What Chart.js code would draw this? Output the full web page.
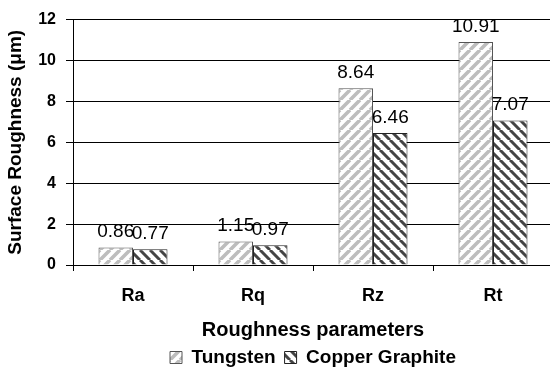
<!DOCTYPE html>
<html><head><meta charset="utf-8">
<script src="https://cdn.jsdelivr.net/npm/chart.js@4/dist/chart.umd.min.js"></script>
<style>html,body{margin:0;padding:0;overflow:hidden;background:#fff}#wrap{width:553px;height:377px}</style>
</head><body><div id="wrap"><canvas id="c" width="553" height="377"></canvas></div>
<script>
const categories = ["Ra", "Rq", "Rz", "Rt"];
const tungsten = [0.86, 1.15, 8.64, 10.91];
const copperGraphite = [0.77, 0.97, 6.46, 7.07];
const seriesNames = ["Tungsten", "Copper Graphite"];
const yTicks = [0, 2, 4, 6, 8, 10, 12];

const FAM = '"Liberation Sans", Arial, sans-serif';
function makePattern(color, bg, dir, lw) {
  const s = 10;
  const cv = document.createElement('canvas');
  cv.width = s; cv.height = s;
  const g = cv.getContext('2d');
  g.fillStyle = bg; g.fillRect(0, 0, s, s);
  g.strokeStyle = color; g.lineWidth = lw;
  g.beginPath();
  for (let k = -1; k <= 1; k++) {
    if (dir > 0) { g.moveTo(k * s, s); g.lineTo(k * s + s, 0); }
    else { g.moveTo(k * s, 0); g.lineTo(k * s + s, s); }
  }
  g.stroke();
  return g.createPattern(cv, 'repeat');
}
const ctx = document.getElementById('c').getContext('2d');
const patT = makePattern('#bdbdbd', '#ffffff', 1, 3.6);
const patC = makePattern('#444444', '#ffffff', -1, 3.0);

const labelPlugin = {
  id: 'vals',
  afterDatasetsDraw(chart) {
    const c = chart.ctx;
    c.save();
    c.font = '19px ' + FAM;
    c.fillStyle = '#000';
    c.textAlign = 'center';
    c.textBaseline = 'alphabetic';
    chart.data.datasets.forEach((ds, i) => {
      chart.getDatasetMeta(i).data.forEach((el, j) => {
        c.fillText(ds.data[j].toFixed(2), el.x, el.y - 10);
      });
    });
    c.restore();
  }
};

new Chart(ctx, {
  type: 'bar',
  data: {
    labels: categories,
    datasets: [
      { label: seriesNames[0], data: tungsten, backgroundColor: patT, borderColor: '#555', borderWidth: 1 },
      { label: seriesNames[1], data: copperGraphite, backgroundColor: patC, borderColor: '#222', borderWidth: 1 }
    ]
  },
  options: {
    responsive: false,
    animation: false,
    devicePixelRatio: 1,
    layout: { padding: { top: 10.5, right: 0, left: 4, bottom: 0 } },
    datasets: { bar: { barPercentage: 1, categoryPercentage: 0.575 } },
    plugins: {
      legend: {
        position: 'bottom',
        fullSize: false,
        labels: {
          font: { family: FAM, size: 19, weight: 'bold' },
          color: '#000', boxWidth: 12, boxHeight: 12, padding: 9
        }
      },
      tooltip: { enabled: false }
    },
    scales: {
      x: {
        afterFit(s) { s.height = 74; },
        grid: { drawOnChartArea: false, offset: true, tickLength: 6, color: '#000' },
        border: { color: '#000' },
        ticks: { color: '#000', padding: 14, font: { family: FAM, size: 18, weight: 'bold' } },
        title: { display: true, text: 'Roughness parameters', color: '#000', padding: { top: 0, bottom: -3 },
          font: { family: FAM, size: 20, weight: 'bold' } }
      },
      y: {
        min: 0, max: 12,
        afterBuildTicks(s) { s.ticks = yTicks.map(v => ({ value: v })); },
        afterFit(s) { s.width = 69; },
        grid: { color: '#000', tickLength: 7 },
        border: { color: '#000' },
        ticks: { color: '#000', padding: 10, font: { family: FAM, size: 16, weight: 'bold' } },
        title: { display: true, text: 'Surface Roughness (μm)', color: '#000', padding: { top: 0, bottom: 0 },
          font: { family: FAM, size: 19, weight: 'bold' } }
      }
    }
  },
  plugins: [labelPlugin]
});
</script></body></html>
